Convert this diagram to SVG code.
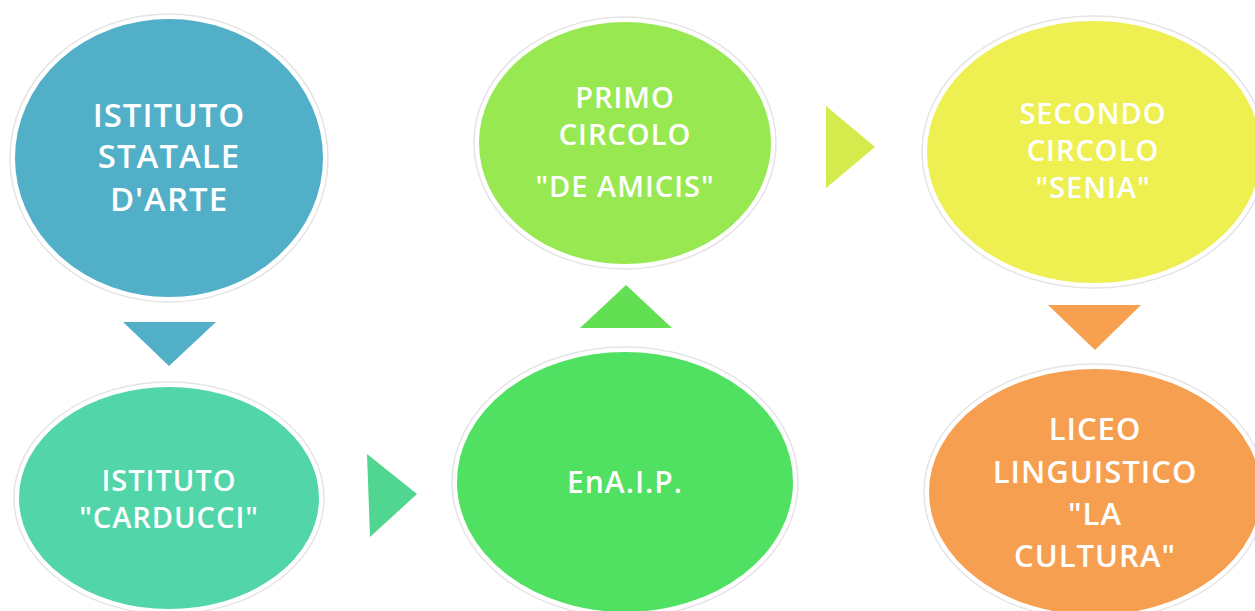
<svg xmlns="http://www.w3.org/2000/svg" width="1255" height="611" viewBox="0 0 1255 611">
<style>
.halo{fill:none;stroke:#e4e4e4;stroke-width:1.5}
.node{stroke:#ffffff;stroke-width:4}
.t{font-family:"Open Sans","Liberation Sans",sans-serif;font-weight:600;fill:#ffffff;text-anchor:middle;letter-spacing:1px}
</style>
<rect width="1255" height="611" fill="#ffffff"/>
<g id="connectors">
<polygon points="123,322 216,322 169,366" fill="#52AFC8"/>
<polygon points="367,454 417,494 370,537" fill="#50D690"/>
<polygon points="580,328 672,328 626,285" fill="#62DF52"/>
<polygon points="826,106 875,147 826,188" fill="#D5EA4C"/>
<polygon points="1048,305 1141,305 1095,350" fill="#F7A050"/>
</g>
<g id="node1">
<ellipse class="halo" cx="169" cy="158" rx="159" ry="144"/>
<ellipse class="node" cx="169" cy="158" rx="156" ry="141" fill="#52AFC8"/>
<text class="t" font-size="33"><tspan x="169" y="127">ISTITUTO</tspan><tspan x="169" y="168">STATALE</tspan><tspan x="169" y="211">D'ARTE</tspan></text>
</g>
<g id="node2">
<ellipse class="halo" cx="169" cy="498" rx="155" ry="116"/>
<ellipse class="node" cx="169" cy="498" rx="152" ry="113" fill="#52D5A8"/>
<text class="t" font-size="29"><tspan x="169" y="491">ISTITUTO</tspan><tspan x="169" y="528">"CARDUCCI"</tspan></text>
</g>
<g id="node3">
<ellipse class="halo" cx="625" cy="482" rx="173" ry="135"/>
<ellipse class="node" cx="625" cy="482" rx="170" ry="132" fill="#50E062"/>
<text class="t" font-size="30" x="625" y="493">EnA.I.P.</text>
</g>
<g id="node4">
<ellipse class="halo" cx="625" cy="143" rx="151" ry="126"/>
<ellipse class="node" cx="625" cy="143" rx="148" ry="123" fill="#98E852"/>
<text class="t" font-size="29"><tspan x="625" y="108">PRIMO</tspan><tspan x="625" y="145">CIRCOLO</tspan><tspan x="625" y="197">"DE AMICIS"</tspan></text>
</g>
<g id="node5">
<ellipse class="halo" cx="1094" cy="152" rx="172" ry="136"/>
<ellipse class="node" cx="1094" cy="152" rx="169" ry="133" fill="#EEF052"/>
<text class="t" font-size="29"><tspan x="1093" y="124">SECONDO</tspan><tspan x="1093" y="161">CIRCOLO</tspan><tspan x="1093" y="198">"SENIA"</tspan></text>
</g>
<g id="node6">
<ellipse class="halo" cx="1095" cy="492" rx="171" ry="128"/>
<ellipse class="node" cx="1095" cy="492" rx="168" ry="125" fill="#F79F50"/>
<text class="t" font-size="31" letter-spacing="2"><tspan x="1095" y="440">LICEO</tspan><tspan x="1095" y="483">LINGUISTICO</tspan><tspan x="1095" y="525">"LA</tspan><tspan x="1095" y="567">CULTURA"</tspan></text>
</g>
</svg>
